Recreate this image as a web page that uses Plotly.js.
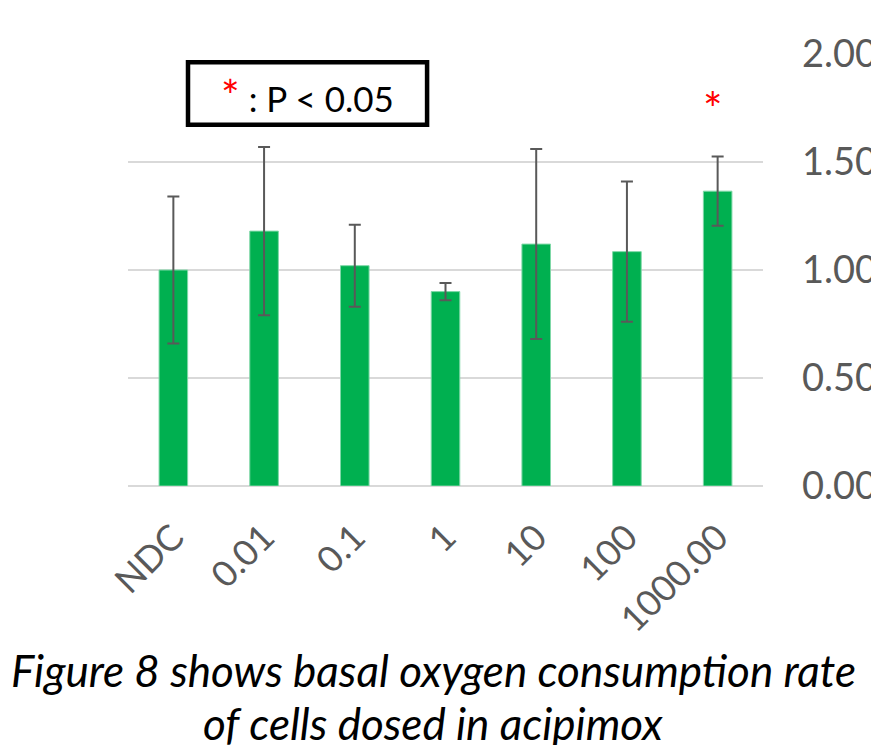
<!DOCTYPE html>
<html>
<head>
<meta charset="utf-8">
<script src="https://cdn.plot.ly/plotly-3.0.1.min.js"></script>
<style>html,body{margin:0;padding:0;background:#fff;}#chart{width:871px;height:745px;}</style>
</head>
<body>
<div id="chart"></div>
<script>
const categories = ["NDC", "0.01", "0.1", "1", "10", "100", "1000.00"];
const ocrValues = [1.00, 1.18, 1.02, 0.90, 1.12, 1.085, 1.365];
const ocrErrors = [0.34, 0.39, 0.19, 0.04, 0.44, 0.325, 0.16];
const significant = [false, false, false, false, false, false, true];
const yTickVals = [0, 0.5, 1.0, 1.5, 2.0];
const yTickText = ["0.00", "0.50", "1.00", "1.50", "2.00"];
const captionLines = ["Figure 8 shows basal oxygen consumption rate", "of cells dosed in acipimox"];
const legendText = '<span style="color:#ff0000;font-size:44px">*</span> : P &lt; 0.05';

const FONT = "Lato, 'Open Sans', sans-serif";

const trace = {
  type: "bar",
  x: categories,
  y: ocrValues,
  marker: {color: "#00B050", line: {color: "#7fd8a7", width: 1}},
  error_y: {type: "data", array: ocrErrors, visible: true, color: "#595959", thickness: 2, width: 6},
  hoverinfo: "none"
};

const annotations = [];
significant.forEach((s, i) => {
  if (s) {
    annotations.push({
      xref: "x", yref: "y", x: i, y: 1.75, xshift: -5,
      text: "*", showarrow: false,
      font: {family: FONT, size: 46, color: "#ff0000"}
    });
  }
});
annotations.push({
  xref: "paper", yref: "paper", x: 0.282, y: 0.905, xanchor: "center", yanchor: "middle",
  text: legendText, showarrow: false,
  font: {family: FONT, size: 35, color: "#000000"}
});
annotations.push({
  xref: "paper", yref: "paper", x: 0.481, y: -0.425, xanchor: "center", yanchor: "middle",
  text: "<i>" + captionLines[0] + "</i>", showarrow: false,
  font: {family: FONT, size: 44, color: "#000000"}
});
annotations.push({
  xref: "paper", yref: "paper", x: 0.481, y: -0.548, xanchor: "center", yanchor: "middle",
  text: "<i>" + captionLines[1] + "</i>", showarrow: false,
  font: {family: FONT, size: 44, color: "#000000"}
});

const layout = {
  width: 871, height: 745,
  margin: {l: 128, r: 108, t: 54, b: 259},
  paper_bgcolor: "#ffffff", plot_bgcolor: "#ffffff",
  showlegend: false,
  bargap: 0.685,
  xaxis: {
    type: "category",
    range: [-0.5, 6.5],
    tickangle: -45,
    tickfont: {family: FONT, size: 36, color: "#595959"},
    showgrid: false, zeroline: false, showline: false, ticks: "",
    ticklabelstandoff: 22
  },
  yaxis: {
    side: "right",
    range: [0, 2],
    tickvals: yTickVals, ticktext: yTickText,
    tickfont: {family: FONT, size: 38, color: "#595959"},
    showgrid: true, gridcolor: "#d9d9d9", gridwidth: 1.5,
    zeroline: true, zerolinecolor: "#d9d9d9", zerolinewidth: 1.5,
    showline: false, ticks: "",
    ticklabelstandoff: 38
  },
  shapes: [{
    type: "rect", xref: "paper", yref: "paper",
    x0: 0.0945, x1: 0.471, y0: 0.836, y1: 0.981,
    line: {color: "#000000", width: 4.5}, fillcolor: "rgba(0,0,0,0)"
  }],
  annotations: annotations
};

Plotly.newPlot("chart", [trace], layout, {staticPlot: true, displayModeBar: false});
</script>
</body>
</html>
